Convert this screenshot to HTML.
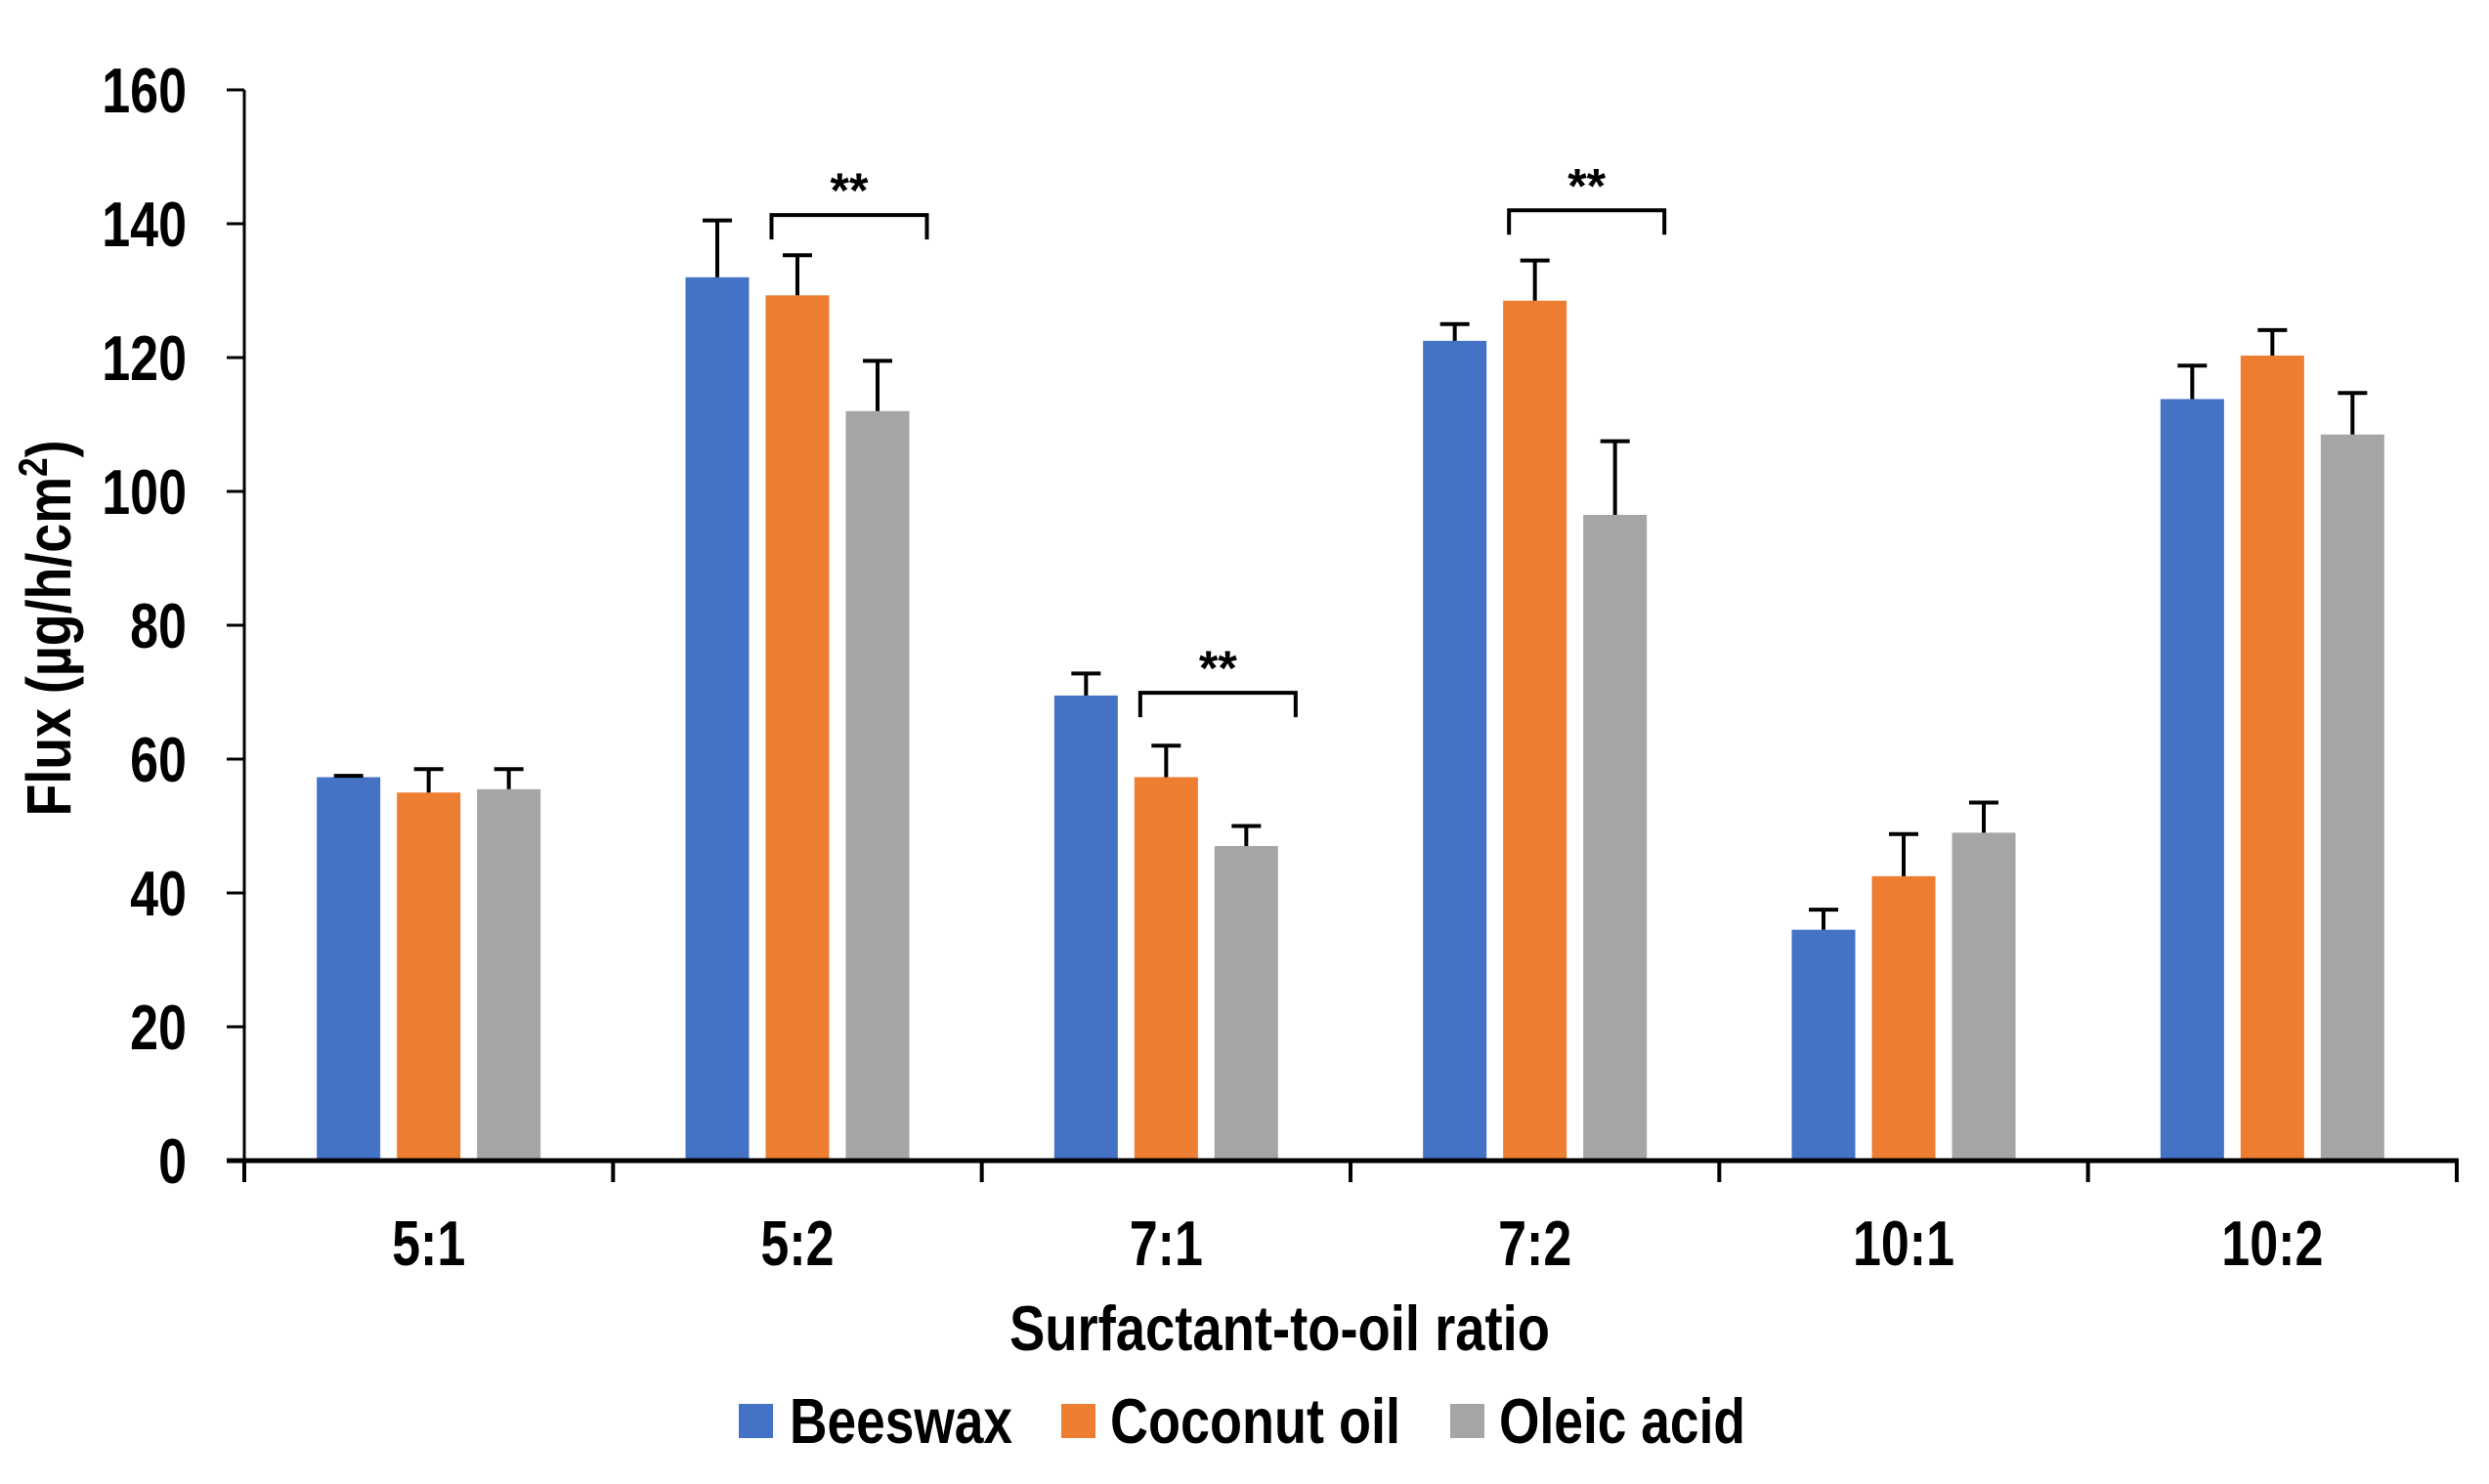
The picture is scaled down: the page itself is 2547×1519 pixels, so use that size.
<!DOCTYPE html>
<html><head><meta charset="utf-8"><style>
html,body{margin:0;padding:0;background:#fff;}
svg text{font-family:"Liberation Sans",Arial,sans-serif;font-weight:bold;fill:#000;}
</style></head><body>
<svg id="chart" xmlns="http://www.w3.org/2000/svg" width="2547" height="1514" viewBox="0 0 2547 1514">
<rect width="2547" height="1514" fill="#fff"/>
<g id="bars"></g>
<g id="errs"></g>
<g id="sig"></g>
<g id="axes"></g>
<text transform="translate(72,643) rotate(-90)" text-anchor="middle" font-size="64" textLength="385" lengthAdjust="spacingAndGlyphs">Flux (µg/h/cm<tspan font-size="42" dy="-24">2</tspan><tspan dy="24">)</tspan></text>
<text x="1033" y="1382" font-size="65" textLength="553" lengthAdjust="spacingAndGlyphs">Surfactant-to-oil ratio</text>
<g>
<g><rect x="756" y="1437" width="35" height="35" fill="#4472C4"/><text x="808" y="1477" font-size="65" textLength="228" lengthAdjust="spacingAndGlyphs">Beeswax</text></g>
<g><rect x="1086" y="1437" width="35" height="35" fill="#ED7D31"/><text x="1136" y="1477" font-size="65" textLength="297" lengthAdjust="spacingAndGlyphs">Coconut oil</text></g>
<g><rect x="1484" y="1437" width="35" height="35" fill="#A5A5A5"/><text x="1534" y="1477" font-size="65" textLength="252" lengthAdjust="spacingAndGlyphs">Oleic acid</text></g>
</g>
</svg>
<script>
const categories = ["5:1","5:2","7:1","7:2","10:1","10:2"];
const beeswax = [57.3,132,69.5,122.5,34.5,113.8];
const coconut = [55,129.3,57.3,128.5,42.5,120.3];
const oleic = [55.5,112,47,96.5,49,108.5];
const beeswaxErr = [0.2,8.5,3.3,2.5,3,5];
const coconutErr = [3.5,6,4.7,6,6.3,3.8];
const oleicErr = [3,7.5,3,11,4.5,6.2];
const yTicks = [0,20,40,60,80,100,120,140,160];
const sigGroups = [1,2,3];
const sigLevels = [141.3,69.9,142];
const sigLabels = ["**","**","**"];

const NS="http://www.w3.org/2000/svg";
const X0=250, X1=2514, Y0=1188, Y160=92;
const catW=(X1-X0)/categories.length;
function yS(v){return Y0-(v/160)*(Y0-Y160);}
function xC(i){return X0+catW*(i+0.5);}
const BW=65, GAP=17;
function barX(i,s){return xC(i)+(s-1)*(BW+GAP)-BW/2;}
function mk(tag,attrs,parent){const e=document.createElementNS(NS,tag);for(const k in attrs)e.setAttribute(k,attrs[k]);parent.appendChild(e);return e;}
const series=[{v:beeswax,e:beeswaxErr,c:"#4472C4",n:"beeswax"},{v:coconut,e:coconutErr,c:"#ED7D31",n:"coconut-oil"},{v:oleic,e:oleicErr,c:"#A5A5A5",n:"oleic-acid"}];
const gb=document.getElementById('bars'), ge=document.getElementById('errs'), gs=document.getElementById('sig'), ga=document.getElementById('axes');
series.forEach((s,si)=>{
  s.v.forEach((v,i)=>{
    const r=mk('rect',{x:barX(i,si),y:yS(v),width:BW,height:Y0-yS(v),fill:s.c},gb);
    
    
    const cx=barX(i,si)+BW/2, top=yS(v+s.e[i]);
    const g=mk('g',{stroke:'#000','stroke-width':4,fill:'none'},ge);
    
    
    mk('line',{x1:cx,x2:cx,y1:yS(v),y2:top},g);
    mk('line',{x1:cx-15,x2:cx+15,y1:top,y2:top},g);
  });
});
sigGroups.forEach((gi,k)=>{
  const xa=barX(gi,1)+6, xb=barX(gi,2)+BW+18, y=yS(sigLevels[k]);
  const p=mk('path',{d:`M${xa},${y+25} V${y} H${xb} V${y+25}`,stroke:'#000','stroke-width':4,fill:'none'},gs);
  
  
  const t=mk('text',{x:(xa+xb)/2,y:y-8,'text-anchor':'middle','font-size':50,'font-weight':'normal'},gs);
  
  
  t.textContent=sigLabels[k];
});
const yl=mk('line',{x1:X0,x2:X0,y1:Y160,y2:Y0,stroke:'#000','stroke-width':3},ga);


const xl=mk('line',{x1:X0-18,x2:X1+2,y1:Y0,y2:Y0,stroke:'#000','stroke-width':5},ga);


yTicks.forEach(v=>{
  const tk=mk('line',{x1:X0-18,x2:X0,y1:yS(v),y2:yS(v),stroke:'#000','stroke-width':3},ga);
  
  
  const t=mk('text',{x:191,y:yS(v)+23,'text-anchor':'end','font-size':65},ga);
  
  
  t.textContent=String(v);
  const w=t.getComputedTextLength()*0.8;
  t.setAttribute('textLength',w);t.setAttribute('lengthAdjust','spacingAndGlyphs');
});
for(let i=0;i<=categories.length;i++){
  const x=X0+catW*i;
  const tk=mk('line',{x1:x,x2:x,y1:Y0,y2:Y0+22,stroke:'#000','stroke-width':4},ga);
  
  
}
categories.forEach((c,i)=>{
  const t=mk('text',{x:xC(i),y:1295,'text-anchor':'middle','font-size':65},ga);
  
  
  t.textContent=c;
  const w=t.getComputedTextLength()*0.8;
  t.setAttribute('textLength',w);t.setAttribute('lengthAdjust','spacingAndGlyphs');
});
</script>
</body></html>
